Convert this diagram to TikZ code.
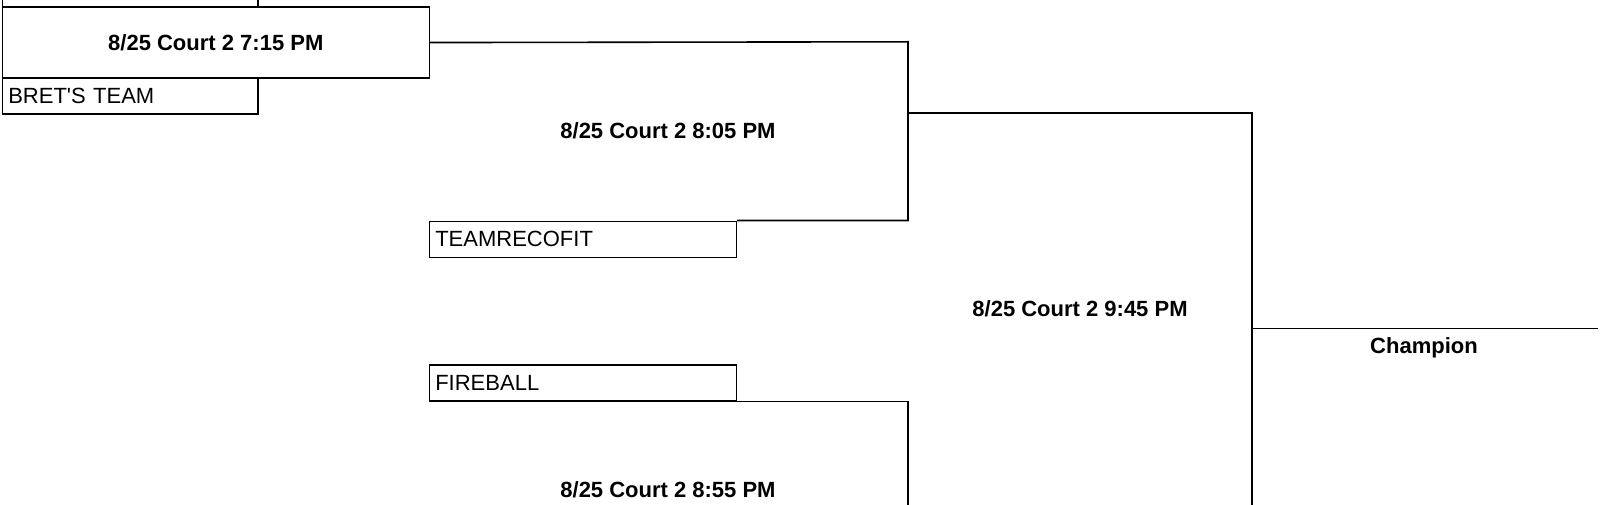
\documentclass[tikz,border=0pt]{standalone}
\usepackage{fontspec}
\setmainfont{Liberation Sans}
\usetikzlibrary{calc}
\tikzstyle{bracketline}=[line width=1.6pt]
\tikzstyle{teambox}=[draw,line width=1.6pt,anchor=north west,minimum height=36pt,inner sep=6pt,align=left,font=\fontsize{22}{24}\selectfont]
\tikzstyle{gamelabel}=[font=\fontsize{22}{24}\selectfont\bfseries]
\newcommand{\straightquote}{\XeTeXglyph\XeTeXcharglyph"0027\relax}
\newcommand{\teamnode}[4][243.5pt]{
	\node[teambox,text width=#1] (#2) at (#3) {#4};
}
\newcommand{\gamenode}[3]{
	\node[gamelabel] (#1) at (#2) {#3};
}

\begin{document}
\begin{tikzpicture}[x=1pt,y=-1pt]
	\useasboundingbox (0,0) rectangle (1600,505);
	\clip (0,0) rectangle (1600,505);
	% first round
	\teamnode{topteam}{1.5,-30}{}
	\node[draw,bracketline,gamelabel,anchor=north west,minimum width=427pt,minimum height=71.5pt] (g715) at (1.5,6) {8/25 Court 2 7:15 PM};
	\teamnode{brets}{1.5,77.5}{BRET\straightquote S TEAM}
	% second round
	\teamnode[295pt]{recofit}{428.5,220.5}{TEAMRECOFIT}
	\teamnode[295pt]{fireball}{428.5,364}{FIREBALL}
	\coordinate (r2top) at (908,41.8);
	\coordinate (r2bot) at (908,520);
	\draw[bracketline] (g715.east) -- (r2top) |- (recofit.north east);
	\draw[bracketline] (fireball.south east) -| (r2bot);
	\gamenode{g805}{668,131}{8/25 Court 2 8:05 PM}
	\gamenode{g855}{668,490}{8/25 Court 2 8:55 PM}
	% final
	\coordinate (sftop) at (908,113.3);
	\coordinate (fcorner) at (1252,113.3);
	\coordinate (fbot) at (1252,520);
	\draw[bracketline] (sftop) -- (fcorner) -- (fbot);
	\gamenode{g945}{1080,309}{8/25 Court 2 9:45 PM}
	\coordinate (chstart) at (1252,328.6);
	\coordinate (chend) at (1598,328.6);
	\draw[bracketline] (chstart) -- (chend);
	\gamenode{champ}{1424,348}{Champion}
\end{tikzpicture}
\end{document}
